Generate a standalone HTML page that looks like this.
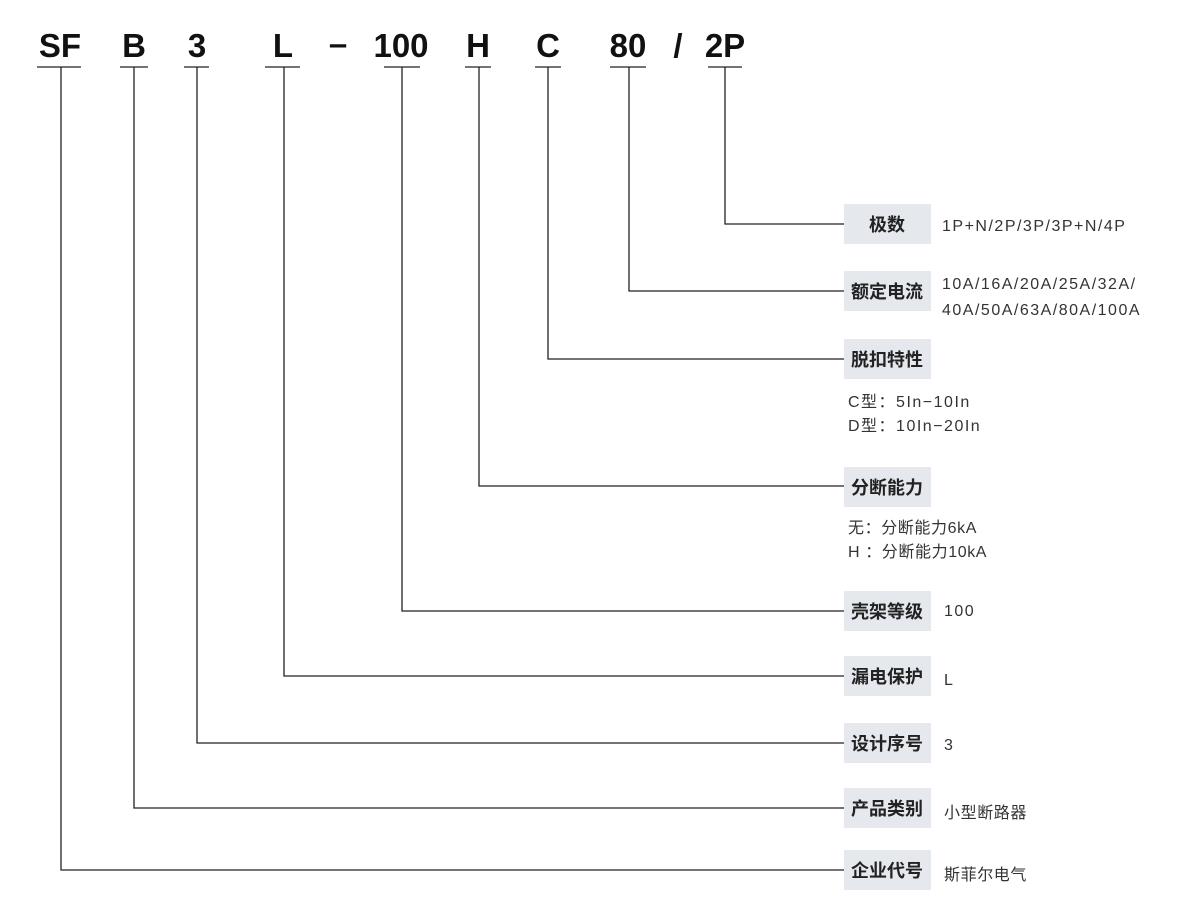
<!DOCTYPE html>
<html><head><meta charset="utf-8"><style>
html,body{margin:0;padding:0;background:#fff;}
svg{display:block}
.t{font-family:"Liberation Sans",sans-serif;font-weight:bold;font-size:33px;fill:#111;text-anchor:middle}
.b{font-family:"Liberation Sans","Noto Sans CJK SC",sans-serif;font-weight:bold;font-size:18px;fill:#222;text-anchor:middle}
.d{font-family:"Liberation Sans","Noto Sans CJK SC",sans-serif;font-size:16px;fill:#333;letter-spacing:1.5px}
.c{letter-spacing:0.6px}
</style></head><body>
<svg width="1200" height="919" viewBox="0 0 1200 919">
<g class="t">
<text x="60" y="57">SF</text>
<text x="134" y="57">B</text>
<text x="197" y="57">3</text>
<text x="283" y="57">L</text>
<text x="338" y="55">–</text>
<text x="401" y="57">100</text>
<text x="478" y="57">H</text>
<text x="548" y="57">C</text>
<text x="628" y="57">80</text>
<text x="678" y="57">/</text>
<text x="725" y="57">2P</text>
</g>
<g stroke="#222" stroke-width="1.3" fill="none">
<line x1="37" y1="67" x2="81" y2="67"/>
<line x1="120" y1="67" x2="148" y2="67"/>
<line x1="184" y1="67" x2="209" y2="67"/>
<line x1="265" y1="67" x2="300" y2="67"/>
<line x1="384" y1="67" x2="420" y2="67"/>
<line x1="465" y1="67" x2="491" y2="67"/>
<line x1="535" y1="67" x2="561" y2="67"/>
<line x1="610" y1="67" x2="646" y2="67"/>
<line x1="708" y1="67" x2="742" y2="67"/>
<polyline points="61,67 61,870 844,870"/>
<polyline points="134,67 134,808 844,808"/>
<polyline points="197,67 197,743 844,743"/>
<polyline points="284,67 284,676 844,676"/>
<polyline points="402,67 402,611 844,611"/>
<polyline points="479,67 479,486 844,486"/>
<polyline points="548,67 548,359 844,359"/>
<polyline points="629,67 629,291 844,291"/>
<polyline points="725,67 725,224 844,224"/>
</g>
<g fill="#e5e9ee">
<rect x="844" y="204" width="87" height="40"/>
<rect x="844" y="271" width="87" height="40"/>
<rect x="844" y="339" width="87" height="40"/>
<rect x="844" y="467" width="87" height="40"/>
<rect x="844" y="591" width="87" height="40"/>
<rect x="844" y="656" width="87" height="40"/>
<rect x="844" y="723" width="87" height="40"/>
<rect x="844" y="788" width="87" height="40"/>
<rect x="844" y="850" width="87" height="40"/>
</g>
<g class="b">
<text x="887" y="231">极数</text>
<text x="887" y="298">额定电流</text>
<text x="887" y="366">脱扣特性</text>
<text x="887" y="494">分断能力</text>
<text x="887" y="618">壳架等级</text>
<text x="887" y="683">漏电保护</text>
<text x="887" y="750">设计序号</text>
<text x="887" y="815">产品类别</text>
<text x="887" y="877">企业代号</text>
</g>
<g class="d">
<text x="942" y="231">1P+N/2P/3P/3P+N/4P</text>
<text x="942" y="289">10A/16A/20A/25A/32A/</text>
<text x="942" y="315">40A/50A/63A/80A/100A</text>
<text x="848" y="407">C型：5In−10In</text>
<text x="848" y="431">D型：10In−20In</text>
<text x="848" y="533" class="c">无：分断能力6kA</text>
<text x="848" y="557" class="c">H ：分断能力10kA</text>
<text x="944" y="616">100</text>
<text x="944" y="685">L</text>
<text x="944" y="750">3</text>
<text x="944" y="818" class="c">小型断路器</text>
<text x="944" y="880" class="c">斯菲尔电气</text>
</g>
</svg>
</body></html>
